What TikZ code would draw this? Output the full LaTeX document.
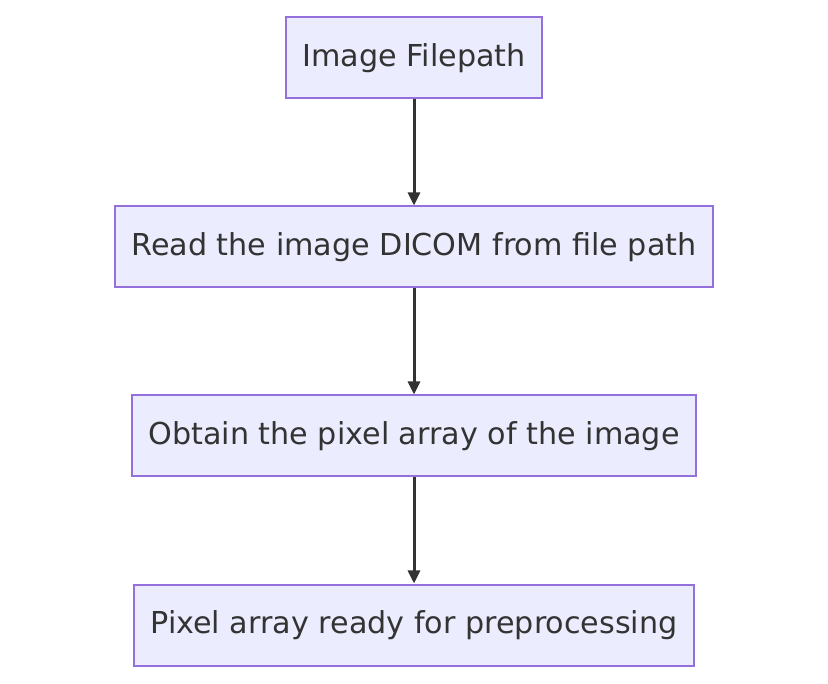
\documentclass[tikz,border=0pt]{standalone}
\usepackage{fontspec}
\setmainfont{DejaVu Sans}
\usetikzlibrary{arrows.meta}
\usetikzlibrary{positioning}
\definecolor{boxfill}{HTML}{ECECFF}
\definecolor{boxline}{HTML}{9370DB}
\definecolor{ink}{HTML}{333333}
\tikzset{
  stepbox/.style={
    draw=boxline, fill=boxfill, line width=2pt,
    minimum height=81pt, inner xsep=16pt,
    font=\fontsize{30.2}{35}\selectfont, text=ink
  },
  arrow/.style={-{Triangle[length=13pt,width=12pt]}, line width=3pt, draw=ink}
}
\begin{document}
\begin{tikzpicture}[x=1pt,y=-1pt,node distance=106pt]
  \useasboundingbox (0,0) rectangle (828,684);
  \node[stepbox] (path) at (414,58) {Image Filepath};
  \node[stepbox, below=of path] (read) {Read the image DICOM from file path};
  \node[stepbox, below=of read] (pixels) {Obtain the pixel array of the image};
  \node[stepbox, below=of pixels] (ready) {Pixel array ready for preprocessing};
  \draw[arrow] (path) -- (read);
  \draw[arrow] (read) -- (pixels);
  \draw[arrow] (pixels) -- (ready);
\end{tikzpicture}
\end{document}
